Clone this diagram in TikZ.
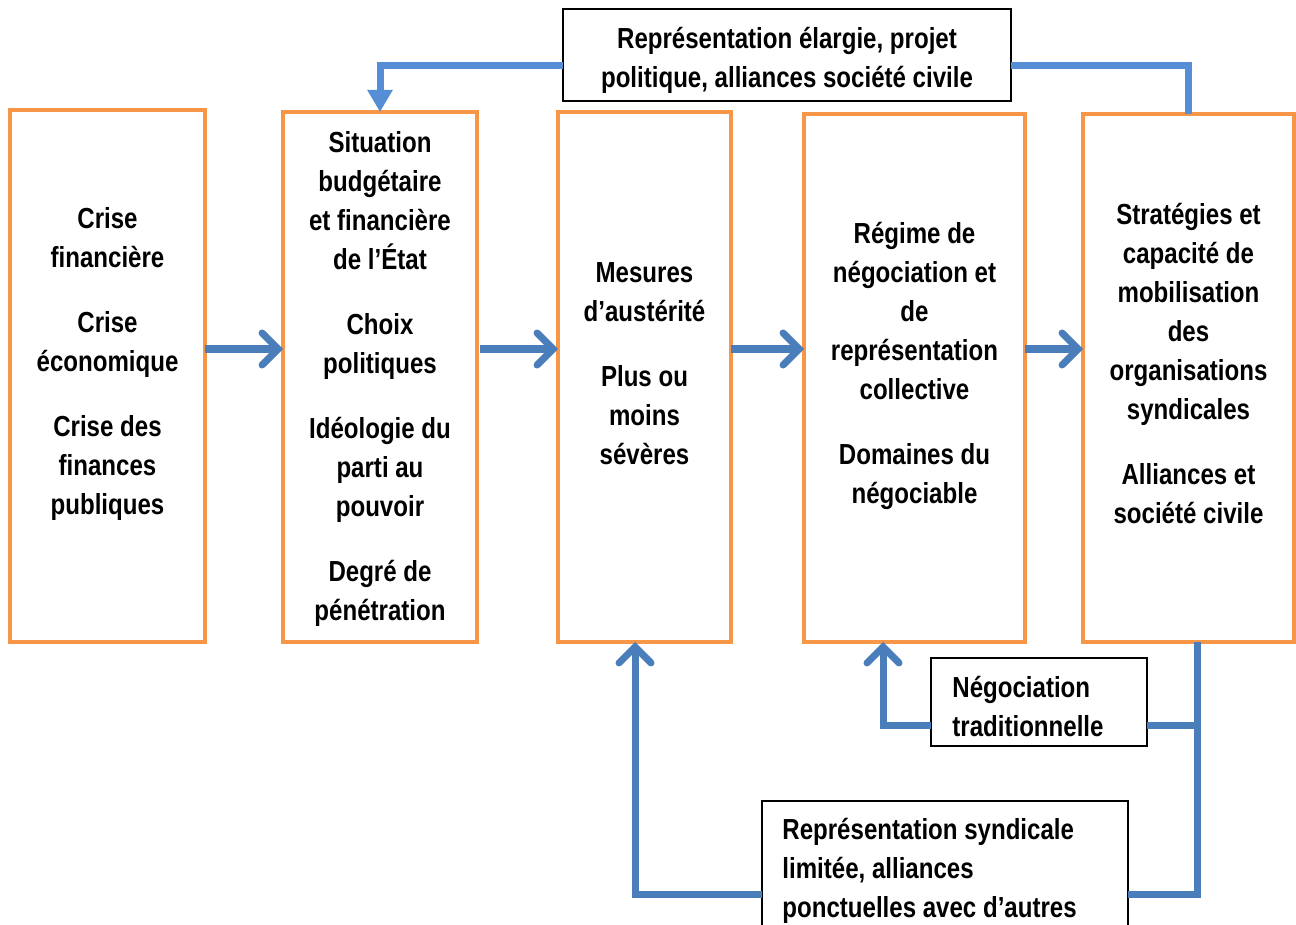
\documentclass[tikz,border=0pt]{standalone}
\usepackage{fontspec}
\setmainfont{Liberation Sans}[FakeStretch=0.83]
\usetikzlibrary{arrows.meta}
\definecolor{boxorange}{HTML}{F79646}
\definecolor{flowblue}{HTML}{4A7EBB}
\definecolor{topblue}{HTML}{558ED5}
\tikzset{
  etape/.style={
    draw=boxorange, line width=2pt,
    shape=rectangle,
    inner sep=0, outer sep=0
  },
  etapetxt/.style={
    align=center, inner sep=0,
    font=\fontsize{14.5}{19.5}\selectfont\bfseries
  },
  cadre/.style={
    draw=black, line width=1pt,
    inner sep=0, outer sep=0
  },
  fleche/.style={
    flowblue, line width=3.5pt,
    -{Straight Barb[length=8pt,width=16pt,line cap=round]}
  },
  lien/.style={flowblue, line width=3.5pt}
}

\begin{document}
\begin{tikzpicture}[x=0.5pt,y=-0.5pt]
\clip (0,0) rectangle (1296,925);
\useasboundingbox (0,0) rectangle (1296,925);

%%% coordinates of the rows and rails
\coordinate (mid) at (0,349);
\coordinate (toprow) at (0,66);
\coordinate (negrow) at (0,725);
\coordinate (synrow) at (0,894);
\coordinate (rail) at (1197,0);
\coordinate (negcol) at (883,0);
\coordinate (syncol) at (635,0);

%%%%%%%%% the five boxes
\node[etape, minimum width=97.5pt, minimum height=266pt] (b1) at (107.5,376) {};
\node[etape, minimum width=97pt, minimum height=265pt] (b2) at (380,377) {};
\node[etape, minimum width=86.5pt, minimum height=265pt] (b3) at (644.5,377) {};
\node[etape, minimum width=110.5pt, minimum height=264pt] (b4) at (914.5,378) {};
\node[etape, minimum width=105.5pt, minimum height=264pt] (b5) at (1188.5,378) {};

\node[etapetxt] (t1) at (107.5,364) {Crise\\financière\\[13pt]Crise\\économique\\[13pt]Crise des\\finances\\publiques};
\node[etapetxt] (t2) at (380,379) {Situation\\budgétaire\\et financière\\de l’État\\[13pt]Choix\\politiques\\[13pt]Idéologie du\\parti au\\pouvoir\\[13pt]Degré de\\pénétration};
\node[etapetxt] (t3) at (644.5,364) {Mesures\\d’austérité\\[13pt]Plus ou\\moins\\sévères};
\node[etapetxt] (t4) at (914.5,366) {Régime de\\négociation et\\de\\représentation\\collective\\[13pt]Domaines du\\négociable};
\node[etapetxt] (t5) at (1188.5,364) {Stratégies et\\capacité de\\mobilisation\\des\\organisations\\syndicales\\[13pt]Alliances et\\société civile};

%%%%%%%%% arrows between boxes
\draw[fleche] (b1.east |- mid) -- (b2.west |- mid);
\draw[fleche] ([xshift=1.5pt]b2.east |- mid) -- (b3.west |- mid);
\draw[fleche] (b3.east |- mid) -- (b4.west |- mid);
\draw[fleche] (b4.east |- mid) -- (b5.west |- mid);

%%%%%%%%% top loop
\node[cadre, minimum width=224pt, minimum height=46pt] (top) at (787,55) {};
\node[etapetxt] (toptxt) at (787,60) {Représentation élargie, projet\\politique, alliances société civile};
\draw[topblue, line width=3.5pt, -{Triangle[length=11pt,width=12pt]}] (top.west |- toprow) -| (b2.north);
\draw[topblue, line width=3.5pt] (top.east |- toprow) -| (b5.north);

%%%%%%%%% bottom loops
\node[cadre, minimum width=108pt, minimum height=44pt] (neg) at (1039,702) {};
\node[etapetxt, align=left, anchor=west] (negtxt) at (952,706.5) {Négociation\\traditionnelle};
\node[cadre, anchor=north west, minimum width=183pt, minimum height=80pt] (syn) at (762,801) {};
\node[etapetxt, align=left, anchor=north west] (syntxt) at (782,818) {Représentation syndicale\\limitée, alliances\\ponctuelles avec d’autres};

\draw[lien] (b5.south -| rail) |- (syn.east |- synrow);
\draw[lien] (neg.east |- negrow) -- (rail |- negrow);
\draw[fleche] (neg.west |- negrow) -| (b4.south -| negcol);
\draw[fleche] (syn.west |- synrow) -| (b3.south -| syncol);

\end{tikzpicture}
\end{document}
